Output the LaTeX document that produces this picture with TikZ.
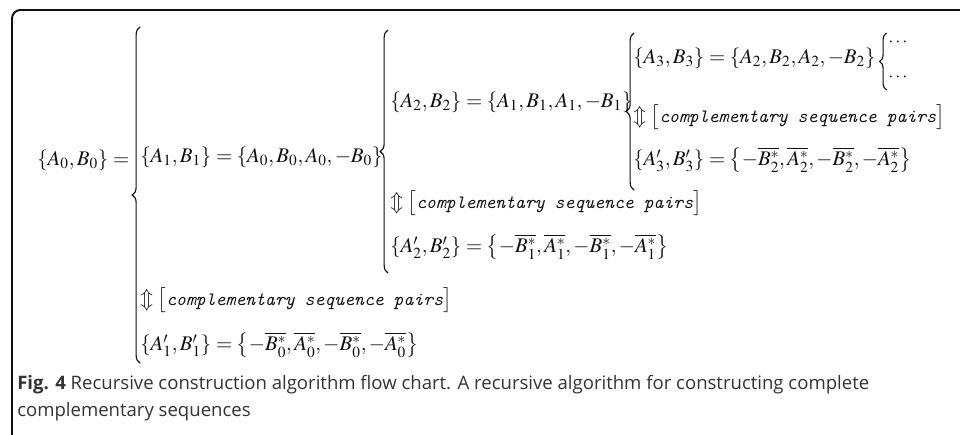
\documentclass[tikz,border=0pt]{standalone}
\usepackage{mathptmx}
\usepackage{fontspec}
\newfontfamily\capfont{Open Sans}
\usepackage{tikz}
\usetikzlibrary{decorations.pathreplacing}
\definecolor{Ink}{HTML}{111111}
\definecolor{CapInk}{HTML}{333333}
\newcommand{\pairtext}{{\fontsize{13.4}{16}\selectfont\ttfamily\itshape complementary sequence pairs}}
\newcommand{\swapline}{$\Updownarrow\bigl[$\pairtext$\bigr]$}

\begin{document}
\begin{tikzpicture}[
  frame/.style={line width=1.4pt,rounded corners=6pt,color=Ink},
  expr/.style={anchor=west,inner sep=0pt,font=\fontsize{14.8}{18}\selectfont,color=Ink},
  curly/.style={decorate,decoration={brace,amplitude=5.5pt},line width=0.8pt,color=Ink},
  caption/.style={anchor=base west,inner sep=0pt,font=\capfont\fontsize{13.2}{15}\selectfont,color=CapInk}
]
\useasboundingbox (0,0) rectangle (24,10.85);
% Frame round the figure.
\draw[frame] (0.3,-0.2) -- (0.3,10.6) -- (24.3,10.6);

% Start pair.
\node[expr] (s0) at (0.925,6.85) {$\{A_0,B_0\}=$};
\draw[curly] (3.5,1.775) -- (3.5,10.175);

% First step.
\node[expr] (s1) at (3.5,6.925) {$\{A_1,B_1\}=\{A_0,B_0,A_0,-B_0\}$};
\node[expr] (p1) at (3.5,3.35) {\swapline};
\node[expr] (c1) at (3.5,2.225)
  {$\{A^{\prime}_1,B^{\prime}_1\}=\left\{-\overline{B_0^{*}},\overline{A_0^{*}},-\overline{B_0^{*}},-\overline{A_0^{*}}\right\}$};
\draw[curly] (9.7,4.025) -- (9.7,10.1);

% Second step.
\node[expr] (s2) at (9.75,8.3) {$\{A_2,B_2\}=\{A_1,B_1,A_1,-B_1\}$};
\node[expr] (p2) at (9.75,5.775) {\swapline};
\node[expr] (c2) at (9.75,4.675)
  {$\{A^{\prime}_2,B^{\prime}_2\}=\left\{-\overline{B_1^{*}},\overline{A_1^{*}},-\overline{B_1^{*}},-\overline{A_1^{*}}\right\}$};
\draw[curly] (15.85,6.1) -- (15.85,10.025);

% Third step.
\node[expr] (s3) at (15.825,9.4) {$\{A_3,B_3\}=\{A_2,B_2,A_2,-B_2\}$};
\node[expr] (p3) at (15.825,7.925) {\swapline};
\node[expr] (c3) at (15.825,6.85)
  {$\{A^{\prime}_3,B^{\prime}_3\}=\left\{-\overline{B_2^{*}},\overline{A_2^{*}},-\overline{B_2^{*}},-\overline{A_2^{*}}\right\}$};
\draw[curly,decoration={amplitude=5pt}] (22.165,8.6) -- (22.165,10.025);
\node[expr,font=\fontsize{13}{15}\selectfont] (d1) at (22.2,9.775) {$\cdots$};
\node[expr,font=\fontsize{13}{15}\selectfont] (d2) at (22.2,8.9) {$\cdots$};

% Caption.
\node[caption] (cap1) at (0.425,1.12)
  {\textbf{Fig. 4} Recursive construction algorithm flow chart. A recursive algorithm for constructing complete};
\node[caption] (cap2) at (0.425,0.43) {complementary sequences};
\end{tikzpicture}
\end{document}
